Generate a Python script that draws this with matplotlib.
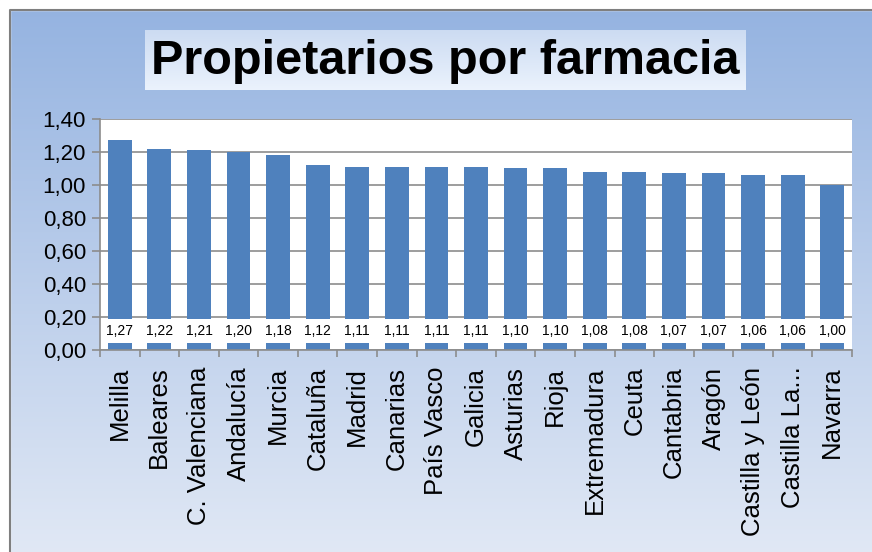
import numpy as np
import matplotlib
matplotlib.use('Agg')
import matplotlib.pyplot as plt
from matplotlib.patches import Rectangle

plt.rcParams['font.family'] = ['Liberation Sans', 'DejaVu Sans']

regions = ['Melilla', 'Baleares', 'C. Valenciana', 'Andalucía', 'Murcia', 'Cataluña',
           'Madrid', 'Canarias', 'País Vasco', 'Galicia', 'Asturias', 'Rioja',
           'Extremadura', 'Ceuta', 'Cantabria', 'Aragón', 'Castilla y León',
           'Castilla La...', 'Navarra']
values = [1.27, 1.22, 1.21, 1.20, 1.18, 1.12, 1.11, 1.11, 1.11, 1.11, 1.10, 1.10,
          1.08, 1.08, 1.07, 1.07, 1.06, 1.06, 1.00]
yticks = [0.0, 0.2, 0.4, 0.6, 0.8, 1.0, 1.2, 1.4]

W, H = 872, 552
fig = plt.figure(figsize=(W / 100, H / 100), dpi=100)

# gradient background of the chart area
bg = fig.add_axes([0, 0, 1, 1], zorder=-10)
grad = np.linspace(0, 1, 256).reshape(-1, 1)
top = np.array([0.58, 0.70, 0.88])
bot = np.array([0.88, 0.91, 0.96])
img = top + (bot - top) * grad[..., None]
bg.imshow(img.reshape(256, 1, 3), aspect='auto', extent=[0, 1, 0, 1], origin='upper')
bg.set_xlim(0, 1)
bg.set_ylim(0, 1)
bg.axis('off')
# white margin and frame
bg.add_patch(Rectangle((0, 1 - 10 / H), 1, 10 / H, color='white', zorder=2))
bg.add_patch(Rectangle((0, 0), 10 / W, 1, color='white', zorder=2))
bg.plot([10 / W, 10 / W, 1], [0, 1 - 10 / H, 1 - 10 / H], color='#7f7f7f', lw=1.5, zorder=3)

# title box
tb = fig.add_axes([145 / W, 1 - 90 / H, 600 / W, 60 / H], zorder=-5)
tgrad = np.linspace(0, 1, 64).reshape(-1, 1)
tt = np.array([0.80, 0.86, 0.95]) + (np.array([0.92, 0.95, 0.99]) - np.array([0.80, 0.86, 0.95])) * tgrad[..., None]
tb.imshow(tt.reshape(64, 1, 3), aspect='auto', extent=[0, 1, 0, 1])
tb.axis('off')
fig.text(445 / W, 1 - 61 / H, 'Propietarios por farmacia', ha='center', va='center',
         fontsize=35, fontweight='bold', color='black', fontstretch='condensed')

ax = fig.add_axes([100 / W, 1 - 350 / H, 752 / W, 231 / H])
x = np.arange(len(regions))
ax.bar(x, values, width=0.6, color='#4F81BD', zorder=2)
ax.set_xlim(-0.5, len(regions) - 0.5)
ax.set_ylim(0, 1.4)
ax.set_yticks(yticks)
ax.set_yticklabels([f'{v:.2f}'.replace('.', ',') for v in yticks], fontsize=16)
ax.yaxis.grid(True, color='#8c8c8c', lw=1.2, zorder=1)
ax.set_axisbelow(True)
ax.set_xticks(x)
ax.set_xticklabels(regions, rotation=90, fontsize=18.5)
ax.set_xticks(np.arange(-0.5, len(regions)), minor=True)
ax.tick_params(axis='x', which='major', length=0, pad=12)
ax.tick_params(axis='x', which='minor', length=5, color='#8c8c8c', width=1.2)
ax.tick_params(axis='y', length=6, color='#8c8c8c', width=1.2, pad=4)
for s in ['top', 'right']:
    ax.spines[s].set_visible(False)
for s in ['left', 'bottom']:
    ax.spines[s].set_color('#8c8c8c')
    ax.spines[s].set_linewidth(1.2)

for xi, v in zip(x, values):
    ax.text(xi, 0.115, f'{v:.2f}'.replace('.', ','), ha='center', va='center', fontsize=10,
            zorder=4, bbox=dict(boxstyle='square,pad=0.35', fc='white', ec='none'))

fig.savefig('out.png', dpi=100)
